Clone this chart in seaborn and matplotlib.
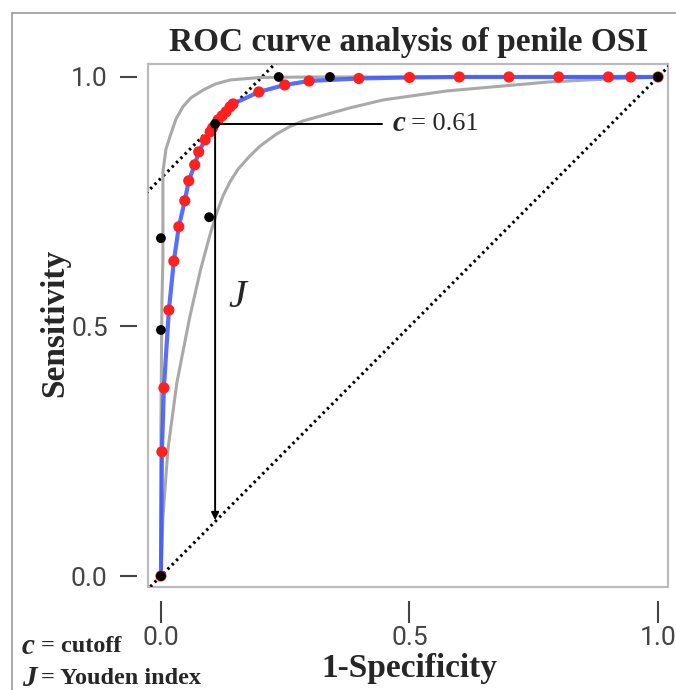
import numpy as np
import pandas as pd
import matplotlib
matplotlib.use("Agg")
import matplotlib.pyplot as plt
import seaborn as sns
from matplotlib.patches import Rectangle
from matplotlib.lines import Line2D

# fitted ROC curve (red points on blue line)
fit_fpr = [0.0, 0.002, 0.006, 0.016, 0.026, 0.036, 0.048, 0.056, 0.068, 0.076,
           0.089, 0.099, 0.104, 0.115, 0.123, 0.131, 0.139, 0.145, 0.197, 0.249,
           0.298, 0.398, 0.5, 0.6, 0.7, 0.8, 0.9, 0.945, 1.0]
fit_tpr = [0.0, 0.249, 0.377, 0.533, 0.631, 0.70, 0.752, 0.792, 0.824, 0.850,
           0.874, 0.890, 0.898, 0.914, 0.922, 0.930, 0.940, 0.946, 0.970, 0.984,
           0.992, 0.997, 0.999, 1.0, 1.0, 1.0, 1.0, 1.0, 1.0]

# confidence band (gray curves)
upper_fpr = [0.0, 0.0, 0.002, 0.004, 0.004, 0.010, 0.018, 0.030, 0.044, 0.060,
             0.085, 0.110, 0.139, 0.2, 0.3, 1.0]
upper_tpr = [0.0, 0.30, 0.55, 0.633, 0.81, 0.855, 0.88, 0.915, 0.94, 0.958,
             0.974, 0.986, 0.994, 0.999, 1.0, 1.0]
lower_fpr = [0.0, 0.004, 0.014, 0.032, 0.058, 0.080, 0.099, 0.113, 0.125, 0.139,
             0.155, 0.179, 0.2, 0.233, 0.26, 0.286, 0.38, 0.447, 0.575, 0.78,
             0.9, 1.0]
lower_tpr = [0.0, 0.118, 0.253, 0.387, 0.519, 0.615, 0.685, 0.73, 0.762, 0.79,
             0.815, 0.842, 0.862, 0.886, 0.901, 0.912, 0.938, 0.954, 0.972, 0.99,
             0.996, 1.0]

# empirical ROC points (black)
emp_fpr = [0.0, 0.0, 0.0, 0.097, 0.109, 0.237, 0.34, 1.0]
emp_tpr = [0.0, 0.493, 0.677, 0.719, 0.906, 1.0, 1.0, 1.0]

cut_x, cut_y = 0.109, 0.906
cutoff_label = "0.61"
tick_vals = [0.0, 0.5, 1.0]
tick_labels = ["0.0", "0.5", "1.0"]

sns.set_theme(style="white")
plt.rcParams['font.family'] = ['Liberation Serif', 'DejaVu Serif']
tick_font = ['Liberation Sans Narrow', 'Roboto', 'DejaVu Sans']

fig = plt.figure(figsize=(6.76, 6.90), dpi=100)
ax = fig.add_axes([148 / 676, 1 - 587 / 690, 520 / 676, 523 / 690])

# reference lines: chance diagonal and tangent (slope 1) through the cutoff
ax.plot([-0.03, 1.05], [-0.03, 1.05], color='black', lw=2.2, ls=(0, (0.8, 1.2)),
        zorder=2)
ax.plot([-0.03, 0.26], [-0.03 + cut_y - cut_x, 0.26 + cut_y - cut_x],
        color='black', lw=2.2, ls=(0, (0.8, 1.2)), zorder=2)

sns.lineplot(x=upper_fpr, y=upper_tpr, ax=ax, color='#a9a9a9', lw=2.2,
             sort=False, estimator=None, zorder=3)
sns.lineplot(x=lower_fpr, y=lower_tpr, ax=ax, color='#a9a9a9', lw=2.2,
             sort=False, estimator=None, zorder=3)
sns.lineplot(x=fit_fpr, y=fit_tpr, ax=ax, color='#3a55ff', lw=3.0, alpha=0.85,
             sort=False, estimator=None, zorder=4)
sns.scatterplot(x=fit_fpr, y=fit_tpr, ax=ax, color='#ff2020', s=65,
                edgecolor='none', zorder=5)
sns.scatterplot(x=emp_fpr, y=emp_tpr, ax=ax, color='black', s=50,
                edgecolor='none', zorder=6)

# Youden index arrow and cutoff marker line
ax.annotate('', xy=(cut_x, cut_x + 0.003), xytext=(cut_x, cut_y),
            arrowprops=dict(arrowstyle='-|>', color='black', lw=1.4,
                            mutation_scale=11, shrinkA=0, shrinkB=0), zorder=7)
ax.plot([cut_x, 0.445], [cut_y, cut_y], color='black', lw=1.4, zorder=7)
ax.text(0.465, cut_y, 'c', fontsize=21, fontweight='bold', style='italic',
        va='center', ha='left')
ax.text(0.503, cut_y, '= ' + cutoff_label, fontsize=19, va='center', ha='left')
ax.text(0.153, 0.559, 'J', fontsize=29, style='italic', va='center', ha='center')

ax.set_xlim(-0.026, 1.020)
ax.set_ylim(-0.022, 1.026)
ax.set_xticks(tick_vals)
ax.set_xticklabels(tick_labels)
ax.set_yticks(tick_vals)
ax.set_yticklabels(tick_labels)
ax.set_xlabel('')
ax.set_ylabel('')

for side in ['top', 'right', 'left', 'bottom']:
    ax.spines[side].set_visible(False)
ax.spines['left'].set_position(('outward', 8))
ax.spines['bottom'].set_position(('outward', 10))
ax.tick_params(axis='both', direction='out', width=1.5,
               color='#444444', labelcolor='#444444', labelsize=19)
ax.tick_params(axis='y', pad=9, length=12, left=True)
ax.tick_params(axis='x', pad=2, length=16, bottom=True)
for lab in ax.get_xticklabels() + ax.get_yticklabels():
    lab.set_family(tick_font)
ax.add_patch(Rectangle((0, 0), 1, 1, transform=ax.transAxes, fill=False,
                       edgecolor='#bbbbbb', lw=1.6, clip_on=False, zorder=1))

# titles and labels
fig.text(409 / 676, 1 - 43 / 690, 'ROC curve analysis of penile OSI',
         fontsize=24, fontweight='bold', ha='center', va='center')
fig.text(55 / 676, 1 - 323 / 690, 'Sensitivity', fontsize=24,
         fontweight='bold', rotation=90, ha='center', va='center')
fig.text(409 / 676, 1 - 668 / 690, '1-Specificity', fontsize=24,
         fontweight='bold', ha='center', va='center')

# key
fig.text(22 / 676, 1 - 646 / 690, 'c', fontsize=21, fontweight='bold',
         style='italic', ha='left', va='center')
fig.text(41 / 676, 1 - 646 / 690, '= cutoff', fontsize=17.5, fontweight='bold',
         ha='left', va='center')
fig.text(22 / 676, 1 - 678 / 690, 'J', fontsize=21, fontweight='bold',
         style='italic', ha='left', va='center')
fig.text(41 / 676, 1 - 678 / 690, '= Youden index', fontsize=17.5,
         fontweight='bold', ha='left', va='center')

# outer frame
fig.add_artist(Line2D([12 / 676, 12 / 676], [0, 1 - 13 / 690],
                      transform=fig.transFigure, color='#999999', lw=1.2))
fig.add_artist(Line2D([12 / 676, 1], [1 - 13 / 690, 1 - 13 / 690],
                      transform=fig.transFigure, color='#999999', lw=1.2))

fig.savefig('out.png', dpi=100)
